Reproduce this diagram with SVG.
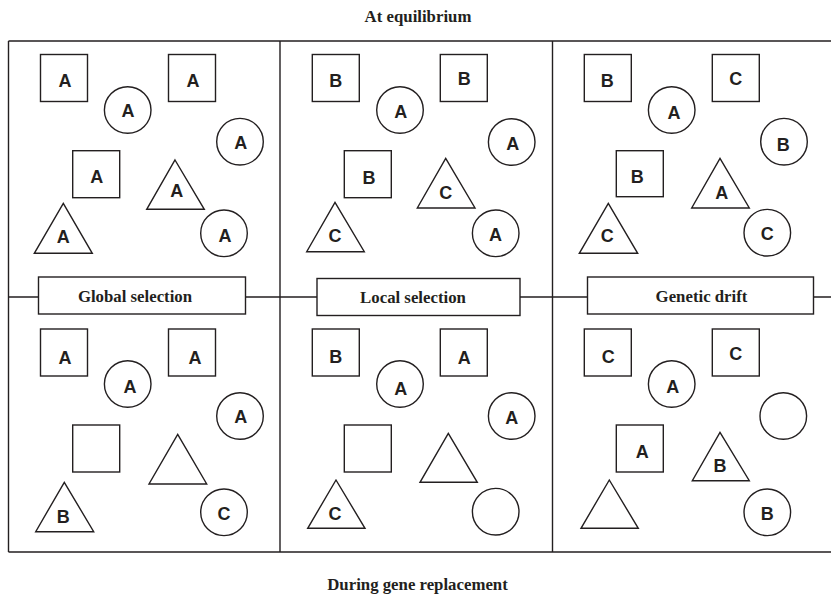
<svg xmlns="http://www.w3.org/2000/svg" width="831" height="594" viewBox="0 0 831 594">
<style>
.ln{stroke:#231f20;stroke-width:1.4;fill:none}
.sh{stroke:#231f20;stroke-width:1.4;fill:#fff}
.lt{font-family:"Liberation Sans",Arial,sans-serif;font-weight:bold;font-size:18px;fill:#231f20;text-anchor:middle}
.tt{font-family:"Liberation Serif","Times New Roman",serif;font-weight:bold;font-size:16.8px;fill:#231f20;text-anchor:middle}
</style>
<rect width="831" height="594" fill="#fff"/>
<text class="tt" x="418" y="22">At equilibrium</text>
<text class="tt" x="417.5" y="590">During gene replacement</text>
<g id="connectors">
<path class="ln" d="M8.5,41 H831 M8.5,552 H831 M8.5,41 V552 M280,41 V552 M552.5,41 V552 M8.5,297 H38 M245,297 H317 M520,297 H587 M813,297 H831"/>
</g>
<g id="label-global"><rect class="sh" x="38.5" y="277" width="207" height="37"/><text class="tt" x="135" y="301.5">Global selection</text></g>
<g id="label-local"><rect class="sh" x="317" y="278.5" width="203" height="37"/><text class="tt" x="413" y="302.5">Local selection</text></g>
<g id="label-drift"><rect class="sh" x="587.5" y="277" width="226" height="37"/><text class="tt" x="701.5" y="301.5">Genetic drift</text></g>

<!-- Panel 1 top -->
<g id="p1t-sq1"><rect class="sh" x="40.5" y="54.5" width="47" height="47"/><text class="lt" x="65" y="87">A</text></g>
<g id="p1t-ci1"><circle class="sh" cx="127.7" cy="110" r="23.3"/><text class="lt" x="128" y="117">A</text></g>
<g id="p1t-sq2"><rect class="sh" x="168.5" y="54.5" width="47" height="47"/><text class="lt" x="193" y="87">A</text></g>
<g id="p1t-ci2"><circle class="sh" cx="240" cy="141.7" r="23.3"/><text class="lt" x="240.7" y="149">A</text></g>
<g id="p1t-sq3"><rect class="sh" x="72.7" y="150.7" width="47" height="47"/><text class="lt" x="96.7" y="183">A</text></g>
<g id="p1t-tr1"><polygon class="sh" points="175,160 204.3,209.3 146.7,209.3"/><text class="lt" x="176.7" y="196.5">A</text></g>
<g id="p1t-tr2"><polygon class="sh" points="63.3,203.3 92.3,253.3 34.3,253.3"/><text class="lt" x="63.3" y="243">A</text></g>
<g id="p1t-ci3"><circle class="sh" cx="224" cy="233.3" r="23.3"/><text class="lt" x="225" y="242">A</text></g>

<!-- Panel 2 top -->
<g id="p2t-sq1"><rect class="sh" x="312.3" y="54.5" width="47" height="47"/><text class="lt" x="335.7" y="86.5">B</text></g>
<g id="p2t-ci1"><circle class="sh" cx="400" cy="110" r="23.3"/><text class="lt" x="400.7" y="117.5">A</text></g>
<g id="p2t-sq2"><rect class="sh" x="440.3" y="54.5" width="47" height="47"/><text class="lt" x="464.3" y="85">B</text></g>
<g id="p2t-ci2"><circle class="sh" cx="511.7" cy="142" r="23.3"/><text class="lt" x="512.7" y="150">A</text></g>
<g id="p2t-sq3"><rect class="sh" x="344.3" y="150.7" width="47" height="47"/><text class="lt" x="369" y="184">B</text></g>
<g id="p2t-tr1"><polygon class="sh" points="445.7,158.3 475,208 417.3,208"/><text class="lt" x="445.7" y="198.8">C</text></g>
<g id="p2t-tr2"><polygon class="sh" points="335,202.3 364.3,251.7 306.7,251.7"/><text class="lt" x="335" y="241.5">C</text></g>
<g id="p2t-ci3"><circle class="sh" cx="495.7" cy="233.3" r="23.3"/><text class="lt" x="495.5" y="240.5">A</text></g>

<!-- Panel 3 top -->
<g id="p3t-sq1"><rect class="sh" x="584.3" y="54.5" width="47" height="47"/><text class="lt" x="607.3" y="86.5">B</text></g>
<g id="p3t-ci1"><circle class="sh" cx="671.7" cy="110" r="23.3"/><text class="lt" x="674" y="118.8">A</text></g>
<g id="p3t-sq2"><rect class="sh" x="712.3" y="54.5" width="47" height="47"/><text class="lt" x="735.7" y="85">C</text></g>
<g id="p3t-ci2"><circle class="sh" cx="784" cy="141.7" r="23.3"/><text class="lt" x="783.3" y="150.5">B</text></g>
<g id="p3t-sq3"><rect class="sh" x="616.3" y="150.7" width="47" height="46"/><text class="lt" x="637.3" y="183">B</text></g>
<g id="p3t-tr1"><polygon class="sh" points="720,158.3 749.3,208 691.7,208"/><text class="lt" x="721.7" y="198.8">A</text></g>
<g id="p3t-tr2"><polygon class="sh" points="608.3,203.3 637.7,253.3 579.3,253.3"/><text class="lt" x="607.3" y="242">C</text></g>
<g id="p3t-ci3"><circle class="sh" cx="767.3" cy="232.7" r="23.3"/><text class="lt" x="767.3" y="240">C</text></g>

<!-- Panel 1 bottom -->
<g id="p1b-sq1"><rect class="sh" x="40.5" y="329" width="47" height="47"/><text class="lt" x="65" y="363.8">A</text></g>
<g id="p1b-ci1"><circle class="sh" cx="127.7" cy="384" r="23.3"/><text class="lt" x="130" y="392.5">A</text></g>
<g id="p1b-sq2"><rect class="sh" x="168.5" y="329" width="47" height="47"/><text class="lt" x="195" y="363.8">A</text></g>
<g id="p1b-ci2"><circle class="sh" cx="240" cy="416" r="23.3"/><text class="lt" x="240.7" y="423.2">A</text></g>
<g id="p1b-sq3"><rect class="sh" x="72.7" y="425" width="47" height="47"/></g>
<g id="p1b-tr1"><polygon class="sh" points="177.7,434.3 206.7,484 149,484"/></g>
<g id="p1b-tr2"><polygon class="sh" points="64.3,482.3 93.7,531.7 35.7,531.7"/><text class="lt" x="63.3" y="523.2">B</text></g>
<g id="p1b-ci3"><circle class="sh" cx="224" cy="512.3" r="23.3"/><text class="lt" x="224" y="519.5">C</text></g>

<!-- Panel 2 bottom -->
<g id="p2b-sq1"><rect class="sh" x="312.3" y="329" width="47" height="47"/><text class="lt" x="335.7" y="362.5">B</text></g>
<g id="p2b-ci1"><circle class="sh" cx="400" cy="384" r="23.3"/><text class="lt" x="400.7" y="394.8">A</text></g>
<g id="p2b-sq2"><rect class="sh" x="440.3" y="329" width="47" height="47"/><text class="lt" x="464.3" y="363.8">A</text></g>
<g id="p2b-ci2"><circle class="sh" cx="511.7" cy="416" r="23.3"/><text class="lt" x="511.7" y="423.8">A</text></g>
<g id="p2b-sq3"><rect class="sh" x="344.3" y="425" width="47" height="47"/></g>
<g id="p2b-tr1"><polygon class="sh" points="448.3,433.3 477.3,482.3 420,482.3"/></g>
<g id="p2b-tr2"><polygon class="sh" points="336,480 365,528.3 307.7,528.3"/><text class="lt" x="335" y="519.8">C</text></g>
<g id="p2b-ci3"><circle class="sh" cx="495.7" cy="511.7" r="23.3"/></g>

<!-- Panel 3 bottom -->
<g id="p3b-sq1"><rect class="sh" x="584.3" y="329" width="47" height="47"/><text class="lt" x="608.3" y="363.2">C</text></g>
<g id="p3b-ci1"><circle class="sh" cx="671.7" cy="384" r="23.3"/><text class="lt" x="672.7" y="393.2">A</text></g>
<g id="p3b-sq2"><rect class="sh" x="712.3" y="329" width="47" height="47"/><text class="lt" x="735.7" y="359.8">C</text></g>
<g id="p3b-ci2"><circle class="sh" cx="783.3" cy="416" r="23.3"/></g>
<g id="p3b-sq3"><rect class="sh" x="616.3" y="425" width="47" height="47"/><text class="lt" x="642.3" y="458.2">A</text></g>
<g id="p3b-tr1"><polygon class="sh" points="720,432.3 749.3,480.7 692.3,480.7"/><text class="lt" x="720" y="471.5">B</text></g>
<g id="p3b-tr2"><polygon class="sh" points="609.3,480 638.3,528.3 581,528.3"/></g>
<g id="p3b-ci3"><circle class="sh" cx="767.3" cy="512.3" r="23.3"/><text class="lt" x="767.3" y="519.8">B</text></g>
</svg>
